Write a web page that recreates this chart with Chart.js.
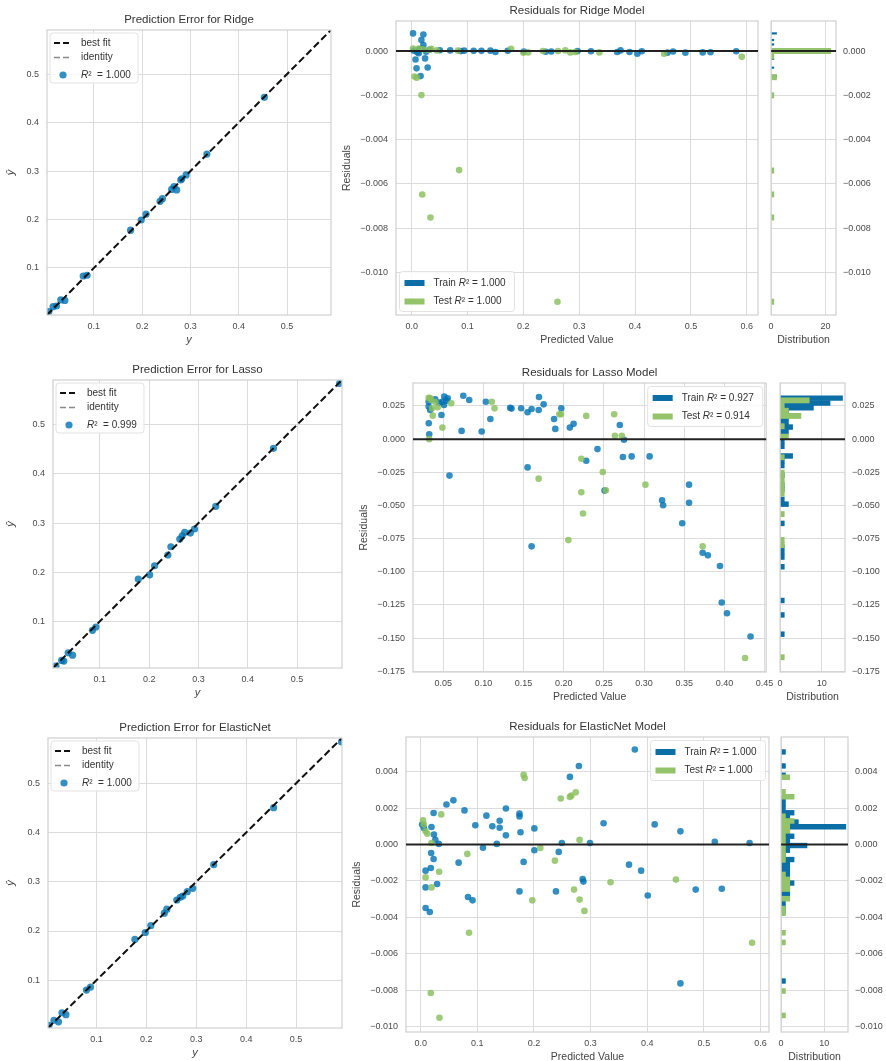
<!DOCTYPE html>
<html>
<head>
<meta charset="utf-8">
<title>Prediction error and residuals</title>
<script src="https://cdn.jsdelivr.net/npm/chart.js@4.4.0/dist/chart.umd.min.js"></script>
<style>
  html, body { margin: 0; padding: 0; background: #fff; }
  body { position: relative; width: 886px; height: 1061px; overflow: hidden; }
  canvas { position: absolute; }
</style>
</head>
<body>
<script>
// ---------- data ----------
const models = ['Ridge', 'Lasso', 'ElasticNet'];
const r2Pred  = ['1.000', '0.999', '1.000'];
const r2Train = ['1.000', '0.927', '1.000'];
const r2Test  = ['1.000', '0.914', '1.000'];

// prediction error (test set): actual y vs predicted y-hat
const ridgeY    = [0.007, 0.0156, 0.0226, 0.0315, 0.040, 0.078, 0.086, 0.176, 0.198, 0.208, 0.237, 0.242, 0.261, 0.266, 0.2715, 0.280, 0.282, 0.291, 0.334, 0.453];
const ridgeYhat = [0.010, 0.0202, 0.0216, 0.034, 0.033, 0.0835, 0.085, 0.178, 0.199, 0.211, 0.2375, 0.243, 0.262, 0.268, 0.261, 0.2815, 0.284, 0.292, 0.335, 0.452];
const lassoY    = [0.011, 0.0225, 0.027, 0.0358, 0.0447, 0.085, 0.092, 0.178, 0.201, 0.211, 0.238, 0.244, 0.262, 0.267, 0.272, 0.2835, 0.292, 0.335, 0.452, 0.586];
const lassoYhat = [0.0088, 0.0204, 0.019, 0.036, 0.031, 0.0816, 0.0884, 0.1857, 0.1945, 0.213, 0.2347, 0.2517, 0.2673, 0.274, 0.281, 0.2796, 0.2878, 0.334, 0.452, 0.584];
const enY       = [0.005, 0.015, 0.024, 0.031, 0.039, 0.080, 0.088, 0.177, 0.198, 0.209, 0.236, 0.241, 0.261, 0.268, 0.273, 0.282, 0.293, 0.335, 0.455, 0.591];
const enYhat    = [0.0086, 0.0187, 0.0155, 0.034, 0.030, 0.080, 0.086, 0.183, 0.197, 0.211, 0.2363, 0.2444, 0.263, 0.2685, 0.271, 0.2798, 0.2866, 0.3347, 0.4504, 0.584];

// residuals: predicted value vs residual
const ridgeTrainPred  = [0.0025, 0.021, 0.0175, 0.021, 0.007, 0.024, 0.0088, 0.0287, 0.016, 0.0127, 0.004, 0.010, 0.014, 0.019, 0.026, 0.032, 0.0505, 0.069, 0.088, 0.094, 0.111, 0.125, 0.141, 0.150, 0.172, 0.201, 0.240, 0.250, 0.297, 0.321, 0.368, 0.374, 0.390, 0.404, 0.412, 0.458, 0.468, 0.490, 0.521, 0.535, 0.581];
const ridgeTrainResid = [0.0008, 0.00075, 0.0005, 0.00027, -0.00038, -0.00033, -0.00078, -0.00074, -0.00113, -0.0001, 0.00002, -0.00005, 0.00008, 0.0001, -0.00003, 0.00006, 0.00004, 0.00003, 0.0, 0.00002, 0.00001, 0.00001, 0.00002, -0.00004, 0.00001, -0.00002, -0.00003, -0.00002, 0.0, -0.00001, -0.00004, 0.00003, -0.00004, -0.00012, -0.00001, -0.00007, -0.00002, -0.00007, -0.00006, -0.00005, -0.00001];
const ridgeTestPred   = [0.0025, 0.0127, 0.035, 0.030, 0.005, 0.009, 0.0175, 0.085, 0.019, 0.0337, 0.261, 0.591, 0.083, 0.178, 0.200, 0.2085, 0.235, 0.262, 0.275, 0.284, 0.293, 0.336, 0.452, 0.020, 0.045];
const ridgeTestResid  = [0.00012, 0.00012, 0.0001, 0.00005, -0.00115, -0.0012, -0.00199, -0.00538, -0.00648, -0.00752, -0.01133, -0.00026, 0.00002, 0.0001, -0.00008, -0.00006, 0.0, 0.0, 0.00003, -0.00006, -0.00004, -0.00006, -0.00012, 0.00008, 0.00003];

const lassoTrainPred  = [0.0319, 0.0319, 0.032, 0.0326, 0.0338, 0.0513, 0.049, 0.0556, 0.0478, 0.051, 0.075, 0.0824, 0.0729, 0.0578, 0.0979, 0.1031, 0.1087, 0.1333, 0.135, 0.147, 0.155, 0.155, 0.160, 0.160, 0.1688, 0.1692, 0.175, 0.188, 0.1895, 0.197, 0.2076, 0.2123, 0.228, 0.242, 0.2508, 0.2698, 0.275, 0.2737, 0.2845, 0.3069, 0.3224, 0.3237, 0.356, 0.356, 0.3475, 0.3729, 0.3794, 0.3945, 0.3967, 0.4032, 0.4325, 0.040, 0.045, 0.054];
const lassoTrainResid = [0.0282, 0.0245, 0.012, 0.0037, 0.022, 0.032, 0.0282, 0.0308, 0.0182, 0.0258, 0.0327, 0.0295, 0.0062, -0.0275, 0.0057, 0.0282, 0.0152, 0.0237, 0.023, 0.0233, 0.0203, -0.0213, 0.0227, -0.0808, 0.022, 0.0318, 0.0262, 0.0152, 0.0077, 0.0232, 0.0087, 0.0115, -0.0163, -0.0075, -0.0388, 0.0107, -0.0005, -0.0135, -0.013, -0.013, -0.0461, -0.0498, -0.0343, -0.048, -0.0634, -0.0856, -0.0876, -0.0956, -0.1231, -0.1312, -0.1487, 0.030, 0.0275, 0.029];
const lassoTestPred   = [0.0319, 0.0335, 0.035, 0.036, 0.037, 0.0326, 0.049, 0.060, 0.1105, 0.1139, 0.1688, 0.1945, 0.1966, 0.2058, 0.2219, 0.2219, 0.2240, 0.228, 0.2486, 0.2525, 0.2628, 0.2637, 0.2723, 0.3017, 0.3729, 0.4257, 0.040, 0.043];
const lassoTestResid  = [0.0312, 0.031, 0.0295, 0.0232, 0.0177, 0.000, 0.0087, 0.027, 0.0282, 0.0232, -0.0298, 0.0188, 0.0188, -0.0761, -0.0148, -0.0400, -0.056, 0.0175, -0.0248, -0.0386, 0.0188, 0.0025, 0.0025, -0.0343, -0.0808, -0.165, 0.028, 0.024];

const enTrainPred  = [0.0025, 0.0055, 0.019, 0.0227, 0.0233, 0.0258, 0.0319, 0.0184, 0.0227, 0.0178, 0.0086, 0.0086, 0.0289, 0.0086, 0.016, 0.0454, 0.0577, 0.0773, 0.0669, 0.0835, 0.0915, 0.0964, 0.1099, 0.116, 0.1265, 0.1344, 0.1394, 0.1394, 0.1504, 0.1504, 0.1744, 0.1744, 0.1762, 0.1744, 0.1817, 0.2007, 0.2007, 0.2388, 0.2437, 0.2492, 0.2634, 0.2793, 0.286, 0.2873, 0.2989, 0.3229, 0.3678, 0.3781, 0.3892, 0.4009, 0.4131, 0.4586, 0.4586, 0.4856, 0.5193, 0.5316, 0.5807];
const enTrainResid = [0.00109, 0.0009, 0.00096, 0.00173, 0.00054, 0.00026, 0.00003, -0.00047, -0.0008, -0.00129, -0.00144, -0.00236, -0.00217, -0.00349, -0.00371, 0.00219, 0.00242, 0.00187, -0.001, -0.00289, -0.00307, 0.00105, -0.00018, 0.00158, 0.001, 0.00003, 0.0013, 0.00092, 0.00197, 0.0005, 0.00169, 0.00154, 0.00067, -0.00258, -0.00096, 0.00088, -0.00032, -0.00258, -0.00041, 0.00008, 0.00371, 0.00431, -0.0019, -0.00204, 0.00008, 0.00116, -0.00111, 0.00521, -0.00144, -0.0028, 0.0011, 0.00072, -0.00763, -0.00248, 0.00014, -0.00243, 0.00008];
const enTestPred   = [0.0041, 0.0055, 0.0086, 0.0117, 0.019, 0.0325, 0.0086, 0.019, 0.0362, 0.0178, 0.0331, 0.0823, 0.0853, 0.1817, 0.1835, 0.197, 0.2112, 0.237, 0.2473, 0.2634, 0.266, 0.2738, 0.2707, 0.2805, 0.2805, 0.2891, 0.3352, 0.4506, 0.5851];
const enTestResid  = [0.00132, 0.00109, 0.00072, 0.00059, 0.00008, -0.0015, -0.00181, -0.00236, 0.00165, -0.00816, -0.00952, -0.00052, -0.00485, 0.00382, 0.00365, -0.00307, -0.00019, -0.00089, 0.00252, 0.00261, 0.00268, 0.00286, -0.00248, 0.00025, -0.00303, -0.00365, -0.00208, -0.00193, -0.0054];

// residual distributions (bin centre, count)
const ridgeTrainBins   = [0.0008, 0.0005, 0.0003, 0.0, -0.00035, -0.00075, -0.00112];
const ridgeTrainCounts = [2, 1, 1, 21, 1, 1, 2];
const ridgeTestBins    = [0.0, -0.00024, -0.00118, -0.002, -0.0054, -0.00648, -0.00752, -0.01133];
const ridgeTestCounts  = [22, 1, 2, 1, 1, 1, 1, 1];
const lassoTrainBins   = [0.0309, 0.0272, 0.0236, 0.0200, 0.0164, 0.0127, 0.0091, 0.0055, 0.0019, -0.0018, -0.0054, -0.0127, -0.0163, -0.0199, -0.0272, -0.0345, -0.0381, -0.0454, -0.0490, -0.0635, -0.0816, -0.0853, -0.0889, -0.0962, -0.1216, -0.1325, -0.1470];
const lassoTrainCounts = [15, 12, 8, 2, 2, 2, 3, 2, 1, 1, 1, 3, 1, 1, 1, 1, 1, 1, 2, 1, 1, 1, 1, 1, 1, 1, 1];
const lassoTestBins    = [0.0292, 0.0253, 0.0214, 0.0175, 0.0097, 0.0019, -0.0137, -0.0253, -0.0292, -0.0331, -0.0370, -0.0409, -0.0565, -0.0760, -0.0799, -0.1644];
const lassoTestCounts  = [7, 1, 2, 5, 1, 2, 1, 1, 1, 1, 1, 1, 1, 1, 1, 1];
const enTrainBins   = [0.00508, 0.00431, 0.00380, 0.00251, 0.00225, 0.00200, 0.00174, 0.00148, 0.00123, 0.00097, 0.00071, 0.00045, 0.00020, -0.00006, -0.00032, -0.00058, -0.00083, -0.00109, -0.00135, -0.00161, -0.00186, -0.00212, -0.00238, -0.00263, -0.00289, -0.00315, -0.00341, -0.00366, -0.00750];
const enTrainCounts = [1, 1, 1, 1, 1, 1, 3, 2, 4, 15, 2, 3, 2, 6, 2, 1, 3, 2, 2, 2, 2, 3, 2, 2, 2, 1, 1, 1, 1];
const enTestBins    = [0.00369, 0.00289, 0.00262, 0.00155, 0.00129, 0.00102, 0.00075, 0.00049, 0.00022, -0.00005, -0.00032, -0.00058, -0.00085, -0.00165, -0.00192, -0.00218, -0.00245, -0.00298, -0.00352, -0.00378, -0.00485, -0.00538, -0.00805, -0.00939];
const enTestCounts  = [2, 1, 3, 1, 3, 2, 2, 1, 1, 1, 1, 1, 1, 1, 2, 2, 2, 2, 1, 1, 1, 1, 1, 1];

// axis limits and ticks
const predLims   = [[0.003, 0.591], [0.005, 0.591], [0.003, 0.592]];
const predTicks  = [0.1, 0.2, 0.3, 0.4, 0.5];
const residXLims = [[-0.028, 0.62], [0.0124, 0.452], [-0.026, 0.615]];
const residYLims = [[-0.01193, 0.00136], [-0.1755, 0.0423], [-0.0103, 0.0059]];
const residXTicks = [
  [0.0, 0.1, 0.2, 0.3, 0.4, 0.5, 0.6],
  [0.05, 0.10, 0.15, 0.20, 0.25, 0.30, 0.35, 0.40, 0.45],
  [0.0, 0.1, 0.2, 0.3, 0.4, 0.5, 0.6]
];
const residYTicks = [
  [0.0, -0.002, -0.004, -0.006, -0.008, -0.010],
  [0.025, 0.0, -0.025, -0.050, -0.075, -0.100, -0.125, -0.150, -0.175],
  [0.004, 0.002, 0.0, -0.002, -0.004, -0.006, -0.008, -0.010]
];
const residXDec = [1, 2, 1];
const histMax   = [23.9, 15.6, 15.5];
const histTicks = [[0, 20], [0, 10], [0, 10]];

// ---------- look ----------
const FONT = "'Liberation Sans', Arial, sans-serif";
const BLUE = '#0b6ea6', BLUE_PT = 'rgba(0,114,178,0.8)';
const GREEN = '#93c46b', GREEN_PT = 'rgba(137,192,92,0.82)';
const GRID = '#dcdcdc', FRAME = '#d0d0d0', TICK = '#4a4a4a', TXT = '#333';
Chart.defaults.font.family = FONT;
Chart.defaults.color = TICK;

// plot areas on the page: [left, top, right, bottom]
const predRects  = [[47, 30, 331, 315], [53, 380, 342, 668], [48, 738, 342, 1028]];
const residRects = [[396, 21, 758, 315], [413, 383, 768, 672], [406, 737, 769, 1032]];
const histRects  = [[766, 21, 836, 315], [775, 383, 845, 672], [776, 737, 848, 1032]];
const histBarPx  = [[1.5, 5.3], [4.8, 5.2], [4.7, 4.9]];

const pts = (xs, ys) => xs.map((x, i) => ({ x, y: ys[i] }));
const fmt = d => v => (v < -1e-9 ? '\u2212' : '') + Math.abs(v).toFixed(d);

function makeCanvas(rect, m) {
  const [l, t, r, b] = rect;
  const w = r - l + m.l + m.r, h = b - t + m.t + m.b;
  const cv = document.createElement('canvas');
  cv.width = w; cv.height = h;
  cv.style.left = (l - m.l) + 'px';
  cv.style.top = (t - m.t) + 'px';
  cv.style.width = w + 'px';
  cv.style.height = h + 'px';
  document.body.appendChild(cv);
  return cv;
}

function axis(o) {
  return {
    type: 'linear', min: o.min, max: o.max, position: o.pos, offset: false,
    afterBuildTicks: a => { a.ticks = o.ticks.map(v => ({ value: v })); },
    afterFit: a => { if (o.pos === 'bottom') a.height = o.size; else a.width = o.size; },
    ticks: { callback: fmt(o.dec), autoSkip: false, maxRotation: 0, minRotation: 0, padding: o.pad, color: TICK, font: { size: 9 } },
    grid: { color: GRID, lineWidth: 1, drawTicks: false, offset: false },
    border: { display: false },
    title: o.title
      ? { display: true, text: o.title, color: '#444', padding: o.tpad, font: { size: o.tsize || 10.5, style: o.italic ? 'italic' : 'normal' } }
      : { display: false }
  };
}

function chartTitle(text) {
  return { display: true, text, color: TXT, fullSize: false, font: { size: 11.5, weight: 'normal' }, padding: { top: 4.6, bottom: 3.6 } };
}

// light frame round every plot area
Chart.register({
  id: 'frame',
  afterDatasetsDraw(chart) {
    const { ctx, chartArea: a } = chart;
    ctx.save();
    ctx.strokeStyle = FRAME;
    ctx.lineWidth = 1.2;
    ctx.strokeRect(a.left, a.top, a.right - a.left, a.bottom - a.top);
    ctx.restore();
  }
});

const zeroLine = {
  id: 'zeroLine',
  afterDatasetsDraw(chart) {
    const { ctx, chartArea: a, scales: { y } } = chart;
    const py = y.getPixelForValue(0);
    ctx.save();
    ctx.strokeStyle = '#222';
    ctx.lineWidth = 2;
    ctx.beginPath(); ctx.moveTo(a.left, py); ctx.lineTo(a.right, py); ctx.stroke();
    ctx.restore();
  }
};

function legendBox(cfg) {
  return {
    id: 'legendBox',
    afterDraw(chart) {
      const { ctx, chartArea: a } = chart;
      const x0 = cfg.corner === 'tr' ? a.right - cfg.inset - cfg.w : a.left + cfg.inset;
      const y0 = cfg.corner === 'bl' ? a.bottom - cfg.inset - cfg.h : a.top + cfg.inset;
      ctx.save();
      ctx.beginPath();
      ctx.roundRect(x0, y0, cfg.w, cfg.h, 3);
      ctx.fillStyle = 'rgba(255,255,255,0.85)';
      ctx.fill();
      ctx.strokeStyle = '#e2e2e2';
      ctx.lineWidth = 1;
      ctx.stroke();
      cfg.rows.forEach(r => {
        const cy = y0 + r.y;
        if (r.kind === 'line') {
          ctx.strokeStyle = r.color; ctx.lineWidth = r.lw; ctx.setLineDash(r.dash);
          ctx.beginPath(); ctx.moveTo(x0 + cfg.sx0, cy); ctx.lineTo(x0 + cfg.sx1, cy); ctx.stroke();
          ctx.setLineDash([]);
        } else if (r.kind === 'dot') {
          ctx.fillStyle = r.color;
          ctx.beginPath(); ctx.arc(x0 + (cfg.sx0 + cfg.sx1) / 2, cy, 3.6, 0, Math.PI * 2); ctx.fill();
        } else {
          ctx.fillStyle = r.color;
          ctx.fillRect(x0 + cfg.sx0, cy - 3, cfg.sx1 - cfg.sx0, 6);
        }
        let tx = x0 + cfg.tx;
        ctx.fillStyle = TXT;
        ctx.textBaseline = 'middle';
        r.text.forEach(([s, it]) => {
          ctx.font = (it ? 'italic ' : '') + '10px ' + FONT;
          ctx.fillText(s, tx, cy);
          tx += ctx.measureText(s).width;
        });
      });
      ctx.restore();
    }
  };
}

const baseOpts = { responsive: false, animation: false, devicePixelRatio: 1, events: [] };

// ---------- prediction error panels ----------
const predY = [ridgeY, lassoY, enY];
const predYhat = [ridgeYhat, lassoYhat, enYhat];

function predChart(i) {
  const rect = predRects[i];
  const m = { l: rect[0], t: 22, r: 8, b: 34 };
  const [lo, hi] = predLims[i];
  new Chart(makeCanvas(rect, m), {
    type: 'scatter',
    data: {
      datasets: [
        { label: 'best fit', data: [{ x: lo, y: lo }, { x: hi, y: hi }], showLine: true, borderColor: '#111', borderWidth: 2, borderDash: [7, 3.5], pointRadius: 0, clip: 0 },
        { label: 'identity', data: [{ x: lo, y: lo }, { x: hi, y: hi }], showLine: true, borderColor: 'rgba(90,90,90,0.5)', borderWidth: 1.5, borderDash: [7, 3.5], pointRadius: 0, clip: 0 },
        { label: 'R2', data: pts(predY[i], predYhat[i]), backgroundColor: BLUE_PT, pointRadius: 3.6, pointBorderWidth: 0, clip: 0 }
      ]
    },
    options: Object.assign({}, baseOpts, {
      layout: { padding: { left: 0, top: 0, right: m.r, bottom: 0 } },
      plugins: { legend: { display: false }, tooltip: { enabled: false }, title: chartTitle('Prediction Error for ' + models[i]) },
      scales: {
        x: axis({ min: lo, max: hi, ticks: predTicks, dec: 1, pos: 'bottom', size: m.b, pad: 6.6, title: 'y', italic: true, tsize: 11, tpad: { top: 0, bottom: 2.4 } }),
        y: axis({ min: lo, max: hi, ticks: predTicks, dec: 1, pos: 'left', size: m.l, pad: 8, title: '\u0177', italic: true, tsize: 11, tpad: { top: 4, bottom: 0 } })
      }
    }),
    plugins: [legendBox({
      corner: 'tl', inset: 3, w: 88, h: 50, sx0: 4, sx1: 22, tx: 31,
      rows: [
        { y: 10, kind: 'line', color: '#111', lw: 2, dash: [6, 3], text: [['best fit']] },
        { y: 24.5, kind: 'line', color: 'rgba(90,90,90,0.7)', lw: 1.5, dash: [6, 3], text: [['identity']] },
        { y: 42, kind: 'dot', color: BLUE_PT, text: [['R', true], ['\u00b2  = ' + r2Pred[i]]] }
      ]
    })]
  });
}

// ---------- residual panels ----------
const trainPred = [ridgeTrainPred, lassoTrainPred, enTrainPred];
const trainResid = [ridgeTrainResid, lassoTrainResid, enTrainResid];
const testPred = [ridgeTestPred, lassoTestPred, enTestPred];
const testResid = [ridgeTestResid, lassoTestResid, enTestResid];

function residChart(i) {
  const rect = residRects[i];
  const m = { l: 60, t: 22, r: 12, b: 34 };
  new Chart(makeCanvas(rect, m), {
    type: 'scatter',
    data: {
      datasets: [
        { label: 'Test', data: pts(testPred[i], testResid[i]), backgroundColor: GREEN_PT, pointRadius: 3.3, pointBorderWidth: 0, clip: 0 },
        { label: 'Train', data: pts(trainPred[i], trainResid[i]), backgroundColor: BLUE_PT, pointRadius: 3.3, pointBorderWidth: 0, clip: 0 }
      ]
    },
    options: Object.assign({}, baseOpts, {
      layout: { padding: { left: 0, top: 0, right: m.r, bottom: 0 } },
      plugins: { legend: { display: false }, tooltip: { enabled: false }, title: chartTitle('Residuals for ' + models[i] + ' Model') },
      scales: {
        x: axis({ min: residXLims[i][0], max: residXLims[i][1], ticks: residXTicks[i], dec: residXDec[i], pos: 'bottom', size: m.b, pad: 6.6, title: 'Predicted Value', tpad: { top: 0, bottom: 2.7 } }),
        y: axis({ min: residYLims[i][0], max: residYLims[i][1], ticks: residYTicks[i], dec: 3, pos: 'left', size: m.l, pad: 8, title: 'Residuals', tpad: { top: 5.2, bottom: 0 } })
      }
    }),
    plugins: [zeroLine, legendBox({
      corner: i === 0 ? 'bl' : 'tr', inset: 3.5, w: 115, h: 40, sx0: 5, sx1: 25, tx: 34,
      rows: [
        { y: 11.5, kind: 'patch', color: BLUE, text: [['Train '], ['R', true], ['\u00b2 = ' + r2Train[i]]] },
        { y: 30, kind: 'patch', color: GREEN, text: [['Test '], ['R', true], ['\u00b2 = ' + r2Test[i]]] }
      ]
    })]
  });
}

// ---------- distribution panels ----------
const trainBins = [ridgeTrainBins, lassoTrainBins, enTrainBins];
const trainCounts = [ridgeTrainCounts, lassoTrainCounts, enTrainCounts];
const testBins = [ridgeTestBins, lassoTestBins, enTestBins];
const testCounts = [ridgeTestCounts, lassoTestCounts, enTestCounts];

function histChart(i) {
  const rect = histRects[i];
  const m = { l: 4, t: 22, r: 886 - rect[2], b: 34 };
  new Chart(makeCanvas(rect, m), {
    type: 'bar',
    data: {
      datasets: [
        { label: 'Test', data: pts(testCounts[i], testBins[i]), backgroundColor: GREEN, borderWidth: 0, grouped: false, barThickness: histBarPx[i][1] },
        { label: 'Train', data: pts(trainCounts[i], trainBins[i]), backgroundColor: BLUE, borderWidth: 0, grouped: false, barThickness: histBarPx[i][0] }
      ]
    },
    options: Object.assign({}, baseOpts, {
      indexAxis: 'y',
      layout: { padding: { left: m.l, top: m.t, right: 0, bottom: 0 } },
      plugins: { legend: { display: false }, tooltip: { enabled: false } },
      scales: {
        x: axis({ min: 0, max: histMax[i], ticks: histTicks[i], dec: 0, pos: 'bottom', size: m.b, pad: 6.6, title: 'Distribution', tpad: { top: 0, bottom: 2.7 } }),
        y: axis({ min: residYLims[i][0], max: residYLims[i][1], ticks: residYTicks[i], dec: 3, pos: 'right', size: m.r, pad: 7 })
      }
    }),
    plugins: [zeroLine]
  });
}

for (let i = 0; i < 3; i++) {
  predChart(i);
  residChart(i);
  histChart(i);
}
</script>
</body>
</html>
